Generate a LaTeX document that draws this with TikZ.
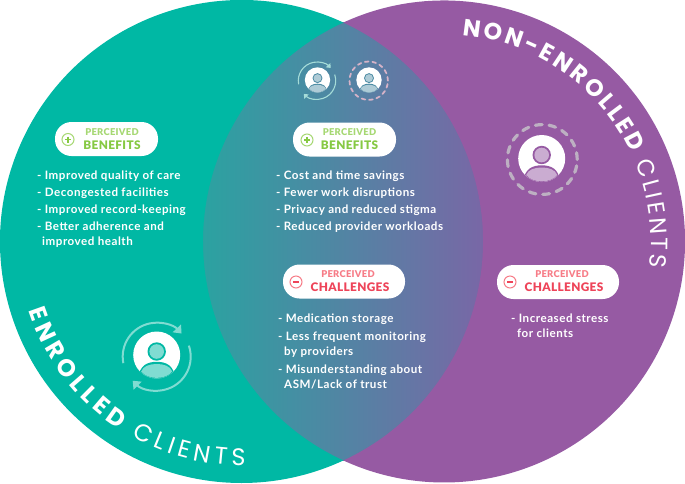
\documentclass[tikz,border=0pt]{standalone}
\usepackage{fontspec}
\setmainfont{Lato}
\usetikzlibrary{decorations.text,arrows.meta}
\newfontfamily\bodyfont[LetterSpace=4.5]{Lato Bold}
\newfontfamily\pillfont[LetterSpace=3]{Lato Black}
\newfontfamily\curvebold{Poppins}
\newfontfamily\curvelight{Poppins}
\definecolor{tealc}{HTML}{00B8A4}
\definecolor{plumc}{HTML}{965AA3}
\definecolor{lensl}{HTML}{2AA3A1}
\definecolor{lensr}{HTML}{7A66A6}
\definecolor{lensm}{HTML}{4C8BA3}
\definecolor{greenb}{HTML}{86C943}
\definecolor{greenl}{HTML}{A6D873}
\definecolor{redb}{HTML}{EE4459}
\definecolor{redl}{HTML}{F77C87}
\definecolor{ringgrey}{HTML}{BDB0C2}
\definecolor{ringpink}{HTML}{D6B3C8}
\definecolor{ringmint}{HTML}{A5DCD8}
\tikzset{
  pill/.style={fill=white,rounded corners=16.5pt,inner sep=0pt,minimum width=#1,minimum height=34pt},
  pilltop/.style={font=\pillfont\fontsize{9.4}{10}\selectfont,inner sep=0pt},
  pillmain/.style={font=\pillfont\fontsize{11.8}{14}\selectfont,inner sep=0pt},
  itemtext/.style={font=\bodyfont\fontsize{11.6}{15}\selectfont,text=white,anchor=north west,align=left,inner sep=0pt},
  sign/.style={circle,draw=#1,line width=1pt,minimum size=12pt,inner sep=0pt},
  signbar/.style={line width=1.3pt},
}
% user badge: white disc, head and shoulders outlined in the background colour
\newcommand{\userbadge}[5]{% x, y, scale, tint, background
  \begin{scope}[shift={(#1,#2)},x=1pt,y=1pt,scale=#3]
    \fill[white] (0,0) circle (23.5);
    \begin{scope}
      \clip (0,0) circle (23.5);
      \fill[#5] (-18.5,-24) .. controls (-17.5,-10) and (-9,-6.8) .. (0,-6.8)
        .. controls (9,-6.8) and (17.5,-10) .. (18.5,-24) -- cycle;
      \fill[#4] (-15.5,-16.5) .. controls (-13.5,-11) and (-7,-9) .. (0,-9)
        .. controls (7,-9) and (13.5,-11) .. (15.5,-16.5)
        .. controls (9,-25) and (-9,-25) .. (-15.5,-16.5) -- cycle;
    \end{scope}
    \fill[#5] (0,3.5) circle (9.2);
    \fill[#4] (0,3.5) circle (7.3);
  \end{scope}}
% two circling arrows round a badge
\newcommand{\cyclering}[4]{% x, y, scale, colour
  \begin{scope}[shift={(#1,#2)},x=1pt,y=1pt,scale=#3]
    \draw[#4,line width=#3*2pt,-{Triangle[length=#3*7pt,width=#3*11pt]}]
      (191:34) arc[start angle=191,end angle=43,radius=34];
    \draw[#4,line width=#3*2pt,-{Triangle[length=#3*7pt,width=#3*11pt]}]
      (19:34) arc[start angle=19,end angle=-135,radius=34];
  \end{scope}}
% dashed ring round a badge
\newcommand{\dashring}[4]{% x, y, scale, colour
  \begin{scope}[shift={(#1,#2)},x=1pt,y=1pt,scale=#3]
    \draw[#4,line width=#3*3.2pt,line cap=round,
          dash pattern=on #3*6.8pt off #3*6.94pt] (0,0) circle (34.9);
  \end{scope}}
\begin{document}
\begin{tikzpicture}[x=1pt,y=-1pt]
\useasboundingbox (0,0) rectangle (685,483);
% the overlap's gradient, then the two crescents laid over its corners
\fill[left color=lensl,right color=lensr] (199,22.6) rectangle (488,460.4);
\begin{scope}[shift={(241.5,241.5)},x=1pt,y=1pt]
  \fill[tealc] (65.05:241.5) arc[start angle=65.05,end angle=294.95,radius=241.5]
    arc[start angle=245.31,end angle=114.69,radius=241] -- cycle;
  \fill[plumc] (-65.05:241.5) arc[start angle=-65.05,end angle=65.05,radius=241.5]
    arc[start angle=114.69,end angle=-114.69,radius=241] -- cycle;
\end{scope}
% curved captions
\begin{scope}[shift={(241.5,241.5)},x=1pt,y=1pt]
  \path[decorate,decoration={text along path,text align=fit to path,
      text={|\curvebold\bfseries\fontsize{24}{24}\selectfont\color{white}|ENROLLED |\curvelight\fontsize{24}{24}\selectfont\color{white}|CLIENTS}}]
    (198:224) arc[start angle=198,end angle=271,radius=224];
\end{scope}
\begin{scope}[shift={(444,241.5)},x=1pt,y=1pt]
  \path[decorate,decoration={text along path,text align=fit to path,
      text={|\curvebold\bfseries\fontsize{23.5}{24}\selectfont\color{white}|NON-ENROLLED |\curvelight\fontsize{23.5}{24}\selectfont\color{white}|CLIENTS}}]
    (85:207) arc[start angle=85,end angle=-7,radius=207];
\end{scope}
% user icons
\cyclering{156.7}{356.7}{1}{white!50!tealc}
\userbadge{156.7}{355}{1}{white!50!tealc}{tealc}
\dashring{542.3}{159.5}{1}{ringgrey}
\userbadge{541.7}{158.5}{1}{plumc!50!white}{plumc}
\cyclering{317}{80.7}{0.55}{ringmint}
\userbadge{317.5}{80}{0.54}{lensm!45!white}{lensm}
\dashring{368.7}{80.7}{0.55}{ringpink}
\userbadge{369}{80}{0.54}{lensm!45!white}{lensm}
% left benefits
\node[pill=103pt] (pillA) at (106.5,139) {};
\node[pilltop,text=greenl] (pillAtop) at (112,132) {PERCEIVED};
\node[pillmain,text=greenb] (pillAmain) at (112,145.5) {BENEFITS};
\node[sign=greenl] (signA) at (68,139.5) {};
\draw[greenb,signbar] (signA.center) ++(-3,0) -- ++(6,0) (signA.center) ++(0,-3) -- ++(0,6);
\node[itemtext] (listA) at (37,171) {- Improved quality of care\\[2pt]- Decongested facilities\\[2pt]- Improved record-keeping\\[2pt]- Better adherence and\\\hspace*{5pt}improved health};
% shared benefits
\node[pill=103pt] (pillB) at (344.5,139.5) {};
\node[pilltop,text=greenl] (pillBtop) at (349.5,132) {PERCEIVED};
\node[pillmain,text=greenb] (pillBmain) at (349.5,145.5) {BENEFITS};
\node[sign=greenl] (signB) at (307,140) {};
\draw[greenb,signbar] (signB.center) ++(-3,0) -- ++(6,0) (signB.center) ++(0,-3) -- ++(0,6);
\node[itemtext] (listB) at (276,170.5) {- Cost and time savings\\[2pt]- Fewer work disruptions\\[2pt]- Privacy and reduced stigma\\[2pt]- Reduced provider workloads};
% shared challenges
\node[pill=122pt] (pillC) at (344,281.5) {};
\node[pilltop,text=redl] (pillCtop) at (348,274) {PERCEIVED};
\node[pillmain,text=redb] (pillCmain) at (350,287.5) {CHALLENGES};
\node[sign=redl] (signC) at (296,282) {};
\draw[redb,signbar] (signC.center) ++(-3,0) -- ++(6,0);
\node[itemtext] (listC) at (278,313.5) {- Medication storage\\[3pt]- Less frequent monitoring\\\hspace*{6pt}by providers\\[3pt]- Misunderstanding about\\\hspace*{6pt}ASM/Lack of trust};
% right challenges
\node[pill=122pt] (pillD) at (558,282) {};
\node[pilltop,text=redl] (pillDtop) at (562,274) {PERCEIVED};
\node[pillmain,text=redb] (pillDmain) at (564,287.5) {CHALLENGES};
\node[sign=redl] (signD) at (510,282) {};
\draw[redb,signbar] (signD.center) ++(-3,0) -- ++(6,0);
\node[itemtext] (listD) at (511,313.5) {- Increased stress\\\hspace*{6pt}for clients};
\end{tikzpicture}
\end{document}
